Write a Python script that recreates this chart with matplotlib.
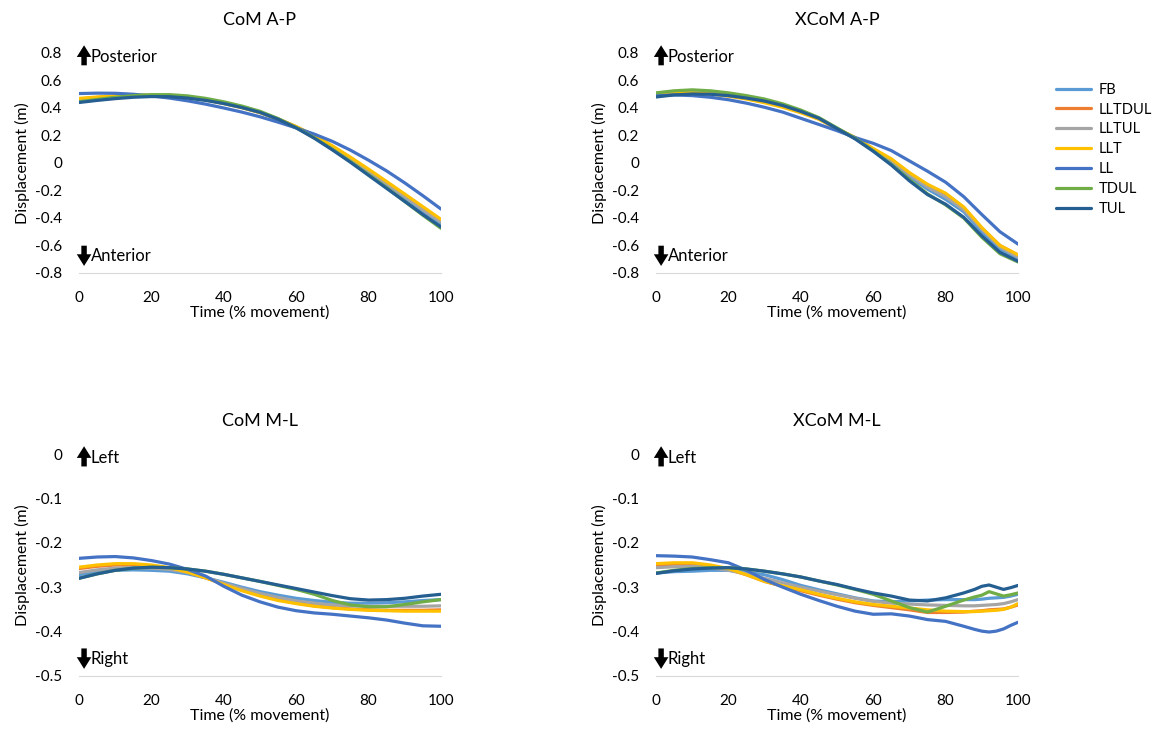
import matplotlib
matplotlib.use("Agg")
import matplotlib.pyplot as plt

plt.rcParams['font.family'] = ['Lato', 'DejaVu Sans']

series = ["FB", "LLTDUL", "LLTUL", "LLT", "LL", "TDUL", "TUL"]
colors = ["#5B9BD5", "#ED7D31", "#A5A5A5", "#FFC000", "#4472C4", "#70AD47", "#255E91"]

t = list(range(0, 101, 5))
t4 = [0, 5, 10, 15, 20, 25, 30, 35, 40, 45, 50, 55, 60, 65, 70, 75, 80, 85, 88, 90, 92, 94, 96, 98, 100]

# CoM A-P
com_ap = {
    "FB": [0.455, 0.468, 0.478, 0.486, 0.49, 0.488, 0.478, 0.46, 0.435, 0.405, 0.368, 0.32, 0.26, 0.19, 0.11, 0.025, -0.065, -0.16, -0.255, -0.35, -0.44],
    "LLTDUL": [0.465, 0.477, 0.486, 0.491, 0.492, 0.489, 0.478, 0.46, 0.435, 0.405, 0.368, 0.32, 0.263, 0.197, 0.12, 0.035, -0.052, -0.142, -0.235, -0.33, -0.42],
    "LLTUL": [0.46, 0.472, 0.482, 0.488, 0.49, 0.488, 0.478, 0.46, 0.435, 0.405, 0.368, 0.32, 0.262, 0.193, 0.115, 0.03, -0.06, -0.152, -0.245, -0.34, -0.43],
    "LLT": [0.47, 0.48, 0.488, 0.492, 0.492, 0.488, 0.477, 0.458, 0.432, 0.402, 0.366, 0.32, 0.265, 0.2, 0.125, 0.042, -0.045, -0.135, -0.226, -0.318, -0.41],
    "LL": [0.505, 0.508, 0.507, 0.5, 0.488, 0.472, 0.452, 0.428, 0.4, 0.37, 0.336, 0.297, 0.255, 0.21, 0.157, 0.093, 0.02, -0.058, -0.145, -0.238, -0.335],
    "TDUL": [0.445, 0.462, 0.478, 0.49, 0.497, 0.497, 0.488, 0.47, 0.445, 0.414, 0.376, 0.323, 0.258, 0.183, 0.1, 0.01, -0.085, -0.18, -0.28, -0.38, -0.475],
    "TUL": [0.44, 0.455, 0.468, 0.478, 0.483, 0.482, 0.472, 0.455, 0.432, 0.403, 0.368, 0.318, 0.255, 0.18, 0.095, 0.005, -0.09, -0.185, -0.28, -0.375, -0.465],
}

# XCoM A-P
xcom_ap = {
    "FB": [0.495, 0.505, 0.51, 0.505, 0.493, 0.475, 0.45, 0.418, 0.375, 0.325, 0.25, 0.178, 0.095, 0.005, -0.1, -0.19, -0.265, -0.355, -0.5, -0.63, -0.7],
    "LLTDUL": [0.505, 0.512, 0.515, 0.507, 0.492, 0.47, 0.445, 0.412, 0.37, 0.32, 0.25, 0.182, 0.102, 0.025, -0.075, -0.16, -0.23, -0.325, -0.475, -0.6, -0.67],
    "LLTUL": [0.5, 0.51, 0.515, 0.508, 0.493, 0.473, 0.448, 0.415, 0.373, 0.323, 0.25, 0.18, 0.1, 0.015, -0.085, -0.175, -0.245, -0.34, -0.48, -0.61, -0.685],
    "LLT": [0.5, 0.508, 0.51, 0.502, 0.486, 0.465, 0.438, 0.405, 0.365, 0.318, 0.25, 0.185, 0.105, 0.03, -0.07, -0.155, -0.22, -0.32, -0.47, -0.6, -0.668],
    "LL": [0.49, 0.495, 0.49, 0.478, 0.46, 0.435, 0.405, 0.37, 0.325, 0.28, 0.235, 0.185, 0.143, 0.09, 0.015, -0.06, -0.14, -0.245, -0.375, -0.5, -0.59],
    "TDUL": [0.51, 0.525, 0.532, 0.525, 0.51, 0.49, 0.465, 0.43, 0.385, 0.33, 0.255, 0.18, 0.09, -0.01, -0.12, -0.225, -0.305, -0.4, -0.54, -0.66, -0.72],
    "TUL": [0.48, 0.495, 0.502, 0.5, 0.49, 0.472, 0.45, 0.418, 0.375, 0.325, 0.25, 0.175, 0.085, -0.015, -0.13, -0.23, -0.3, -0.395, -0.53, -0.65, -0.715],
}

# CoM M-L
com_ml = {
    "FB": [-0.272, -0.265, -0.262, -0.261, -0.262, -0.264, -0.27, -0.279, -0.289, -0.3, -0.31, -0.318, -0.325, -0.33, -0.334, -0.336, -0.336, -0.335, -0.333, -0.33, -0.328],
    "LLTDUL": [-0.258, -0.253, -0.25, -0.25, -0.252, -0.257, -0.266, -0.279, -0.293, -0.306, -0.318, -0.328, -0.336, -0.342, -0.346, -0.349, -0.351, -0.352, -0.352, -0.352, -0.351],
    "LLTUL": [-0.267, -0.261, -0.257, -0.256, -0.257, -0.26, -0.267, -0.278, -0.291, -0.303, -0.314, -0.323, -0.331, -0.336, -0.34, -0.342, -0.343, -0.343, -0.343, -0.343, -0.342],
    "LLT": [-0.255, -0.25, -0.247, -0.247, -0.25, -0.256, -0.266, -0.279, -0.294, -0.308, -0.32, -0.33, -0.337, -0.343, -0.347, -0.35, -0.352, -0.353, -0.354, -0.354, -0.354],
    "LL": [-0.235, -0.232, -0.231, -0.234, -0.24, -0.248, -0.26, -0.275, -0.298, -0.318, -0.333, -0.345, -0.353, -0.358, -0.361, -0.365, -0.369, -0.374, -0.381, -0.387, -0.388],
    "TDUL": [-0.28, -0.27, -0.262, -0.257, -0.255, -0.256, -0.259, -0.264, -0.271, -0.279, -0.287, -0.296, -0.305, -0.316, -0.33, -0.34, -0.344, -0.344, -0.339, -0.333, -0.328],
    "TUL": [-0.28, -0.27, -0.262, -0.257, -0.255, -0.256, -0.259, -0.264, -0.271, -0.279, -0.287, -0.295, -0.303, -0.311, -0.319, -0.326, -0.329, -0.328, -0.325, -0.32, -0.316],
}

# XCoM M-L
xcom_ml = {
    "FB": [-0.268, -0.265, -0.264, -0.262, -0.262, -0.266, -0.272, -0.283, -0.296, -0.306, -0.315, -0.324, -0.331, -0.333, -0.331, -0.329, -0.328, -0.328, -0.328, -0.327, -0.325, -0.324, -0.323, -0.32, -0.316],
    "LLTDUL": [-0.25, -0.248, -0.248, -0.252, -0.26, -0.272, -0.287, -0.298, -0.308, -0.318, -0.327, -0.335, -0.341, -0.346, -0.351, -0.357, -0.357, -0.356, -0.354, -0.353, -0.351, -0.35, -0.349, -0.345, -0.34],
    "LLTUL": [-0.256, -0.254, -0.253, -0.256, -0.262, -0.27, -0.28, -0.29, -0.3, -0.309, -0.317, -0.325, -0.332, -0.336, -0.338, -0.34, -0.341, -0.342, -0.342, -0.341, -0.34, -0.339, -0.337, -0.333, -0.328],
    "LLT": [-0.247, -0.245, -0.245, -0.25, -0.258, -0.272, -0.287, -0.297, -0.306, -0.316, -0.325, -0.333, -0.339, -0.343, -0.347, -0.351, -0.354, -0.355, -0.355, -0.354, -0.353, -0.352, -0.35, -0.345, -0.337],
    "LL": [-0.229, -0.23, -0.232, -0.238, -0.245, -0.262, -0.283, -0.3, -0.316, -0.33, -0.343, -0.354, -0.361, -0.36, -0.365, -0.373, -0.377, -0.388, -0.395, -0.399, -0.401, -0.399, -0.394, -0.386, -0.379],
    "TDUL": [-0.268, -0.262, -0.258, -0.256, -0.256, -0.259, -0.264, -0.27, -0.277, -0.286, -0.295, -0.305, -0.316, -0.331, -0.346, -0.356, -0.343, -0.329, -0.322, -0.318, -0.31, -0.315, -0.32, -0.317, -0.313],
    "TUL": [-0.269, -0.263, -0.259, -0.257, -0.256, -0.259, -0.264, -0.27, -0.277, -0.286, -0.294, -0.304, -0.313, -0.32, -0.329, -0.331, -0.324, -0.313, -0.305, -0.298, -0.295, -0.3, -0.305, -0.301, -0.296],
}

ap_ticks = [0.8, 0.6, 0.4, 0.2, 0, -0.2, -0.4, -0.6, -0.8]
ap_labels = ["0.8", "0.6", "0.4", "0.2", "0", "-0.2", "-0.4", "-0.6", "-0.8"]
ml_ticks = [0, -0.1, -0.2, -0.3, -0.4, -0.5]
ml_labels = ["0", "-0.1", "-0.2", "-0.3", "-0.4", "-0.5"]
x_ticks = [0, 20, 40, 60, 80, 100]

fig = plt.figure(figsize=(11.55, 7.33), dpi=100)

panels = [
    ("CoM A-P", com_ap, t, [0.0684, 0.6276, 0.3134, 0.3001], ap_ticks, ap_labels, (-0.8, 0.8), ("Posterior", "Anterior")),
    ("XCoM A-P", xcom_ap, t, [0.568, 0.6276, 0.3134, 0.3001], ap_ticks, ap_labels, (-0.8, 0.8), ("Posterior", "Anterior")),
    ("CoM M-L", com_ml, t, [0.0684, 0.0778, 0.3134, 0.3028], ml_ticks, ml_labels, (-0.5, 0), ("Left", "Right")),
    ("XCoM M-L", xcom_ml, t4, [0.568, 0.0778, 0.3134, 0.3028], ml_ticks, ml_labels, (-0.5, 0), ("Left", "Right")),
]

arrow_props = dict(arrowstyle="simple,head_width=0.75,head_length=0.6,tail_width=0.28",
                   fc="black", ec="none", mutation_scale=14, shrinkA=0, shrinkB=0)

for title, data, tt, rect, yt, yl, ylim, (up, down) in panels:
    ax = fig.add_axes(rect)
    for name, c in zip(series, colors):
        ax.plot(tt, data[name], color=c, lw=2.3, label=name, solid_capstyle="round")
    ax.set_xlim(0, 100)
    ax.set_ylim(*ylim)
    ax.set_yticks(yt)
    ax.set_yticklabels(yl)
    ax.set_xticks(x_ticks)
    for s in ["top", "right", "left"]:
        ax.spines[s].set_visible(False)
    ax.spines["bottom"].set_color("#D9D9D9")
    ax.tick_params(length=0, labelsize=11, pad=12)
    ax.tick_params(axis="x", pad=13)
    ax.set_title(title, fontsize=13, pad=20)
    ax.set_xlabel("Time (% movement)", fontsize=11.5, labelpad=0)
    ax.set_ylabel("Displacement (m)", fontsize=11.5, labelpad=4)

    span = ylim[1] - ylim[0]
    # direction markers
    ax.annotate("", xy=(1.4, ylim[1] + 0.035 * span), xytext=(1.4, ylim[1] - 0.056 * span),
                arrowprops=arrow_props, annotation_clip=False)
    ax.text(3.3, ylim[1] - 0.02 * span, up, fontsize=12, va="center", ha="left", clip_on=False)
    ax.annotate("", xy=(1.4, ylim[0] + 0.032 * span), xytext=(1.4, ylim[0] + 0.124 * span),
                arrowprops=arrow_props, annotation_clip=False)
    ax.text(3.3, ylim[0] + 0.077 * span, down, fontsize=12, va="center", ha="left", clip_on=False)
    if title == "XCoM A-P":
        leg_handles, leg_labels = ax.get_legend_handles_labels()

fig.legend(leg_handles, leg_labels, loc="upper left", bbox_to_anchor=(0.903, 0.905),
           frameon=False, fontsize=10.5, handlelength=2.4, labelspacing=0.4, handletextpad=0.5)

fig.savefig("out.png", dpi=100)
